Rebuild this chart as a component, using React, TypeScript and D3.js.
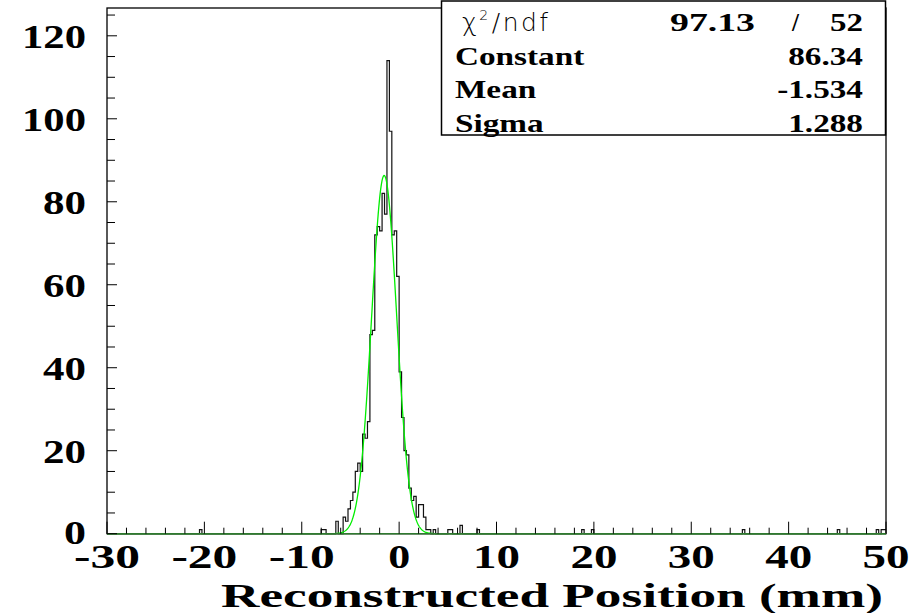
import React from 'react'
import * as d3 from 'd3'

// histogram contents, 0.25 mm bins between -30 and 50 (only filled bins listed)
const binLow = [
  -20.5, -8, -7.75, -6.5, -5.75, -5.5, -5.25, -5, -4.75, -4.5, -4.25, -4, -3.75, -3.5, -3.25,
  -3, -2.75, -2.5, -2.25, -2, -1.75, -1.5, -1.25, -1, -0.75, -0.5, -0.25, 0, 0.25, 0.5,
  0.75, 1, 1.25, 1.5, 1.75, 2, 2.25, 2.5, 2.75, 3, 3.5, 5, 5.25, 6.25, 8, 18.75, 19.75,
  35.25, 45, 49, 49.5, 49.75,
]
const binCount = [
  1, 1, 1, 3, 4, 3, 6, 8, 10, 15, 17, 15, 24, 23, 27,
  48, 49, 72, 74, 73, 82, 77, 114, 97, 72, 73, 62, 39, 28, 20,
  19, 11, 8, 9, 4, 7, 7, 4, 1, 1, 1, 1, 1, 2, 1, 1, 1,
  1, 1, 1, 1, 1,
]

const xTickLabels = [-30, -20, -10, 0, 10, 20, 30, 40, 50]
const yTickLabels = [0, 20, 40, 60, 80, 100, 120]

// fit result shown in the stats box
const fitNames = ['Constant', 'Mean', 'Sigma']
const fitValues = ['86.34', '-1.534', '1.288']
const fitParams = [86.34, -1.534, 1.288]
const chi2 = '97.13'
const ndf = '52'

const binWidth = 0.25

export default function App() {
  const x = d3.scaleLinear().domain([-30, 50]).range([107, 886])
  const y = d3.scaleLinear().domain([0, 126.7]).range([533.7, 8])

  const nBins = Math.round(80 / binWidth)
  const counts = new Array(nBins).fill(0)
  binLow.forEach((lo, i) => {
    counts[Math.round((lo + 30) / binWidth)] = binCount[i]
  })
  const steps = counts.map((c, i) => [-30 + i * binWidth, c])
  steps.push([50, counts[nBins - 1]])

  const histLine = d3.line<number[]>()
    .x(d => x(d[0]))
    .y(d => y(d[1]))
    .curve(d3.curveStepAfter)

  const [amp, mean, sigma] = fitParams
  const fitPts = d3.range(-30, 50.001, 0.05).map(v => [v, amp * Math.exp(-0.5 * ((v - mean) / sigma) ** 2)])
  const fitLine = d3.line<number[]>().x(d => x(d[0])).y(d => y(d[1]))

  const xMinor = d3.range(-30, 50.01, 2)
  const yMinor = d3.range(0, 126, 5)

  const serif = '"Liberation Serif", "Times New Roman", serif'
  const labelWidths: Record<string, number> = { '1': 22, '2': 43, '3': 64 }
  const statFont = { fontFamily: serif, fontWeight: 'bold', fontSize: 25 } as const
  const sx = 1.33

  return (
    <svg width={916} height={613} style={{ position: 'absolute', left: 0, top: 0, background: '#fff' }}>
      <path d={histLine(steps) || ''} fill="none" stroke="#111" strokeWidth={1.2} />
      <path d={fitLine(fitPts) || ''} fill="none" stroke="#00ee00" strokeWidth={1.3} />

      <rect x={107} y={8} width={779} height={525.7} fill="none" stroke="#000" strokeWidth={1.3} />
      <line x1={107} x2={886} y1={533.7} y2={533.7} stroke="#2f7a2f" strokeWidth={1.4} />

      {xMinor.map(v => {
        const major = Math.abs(v % 10) < 1e-6
        return <line key={'xt' + v} x1={x(v)} x2={x(v)} y1={533.7} y2={533.7 - (major ? 12 : 6)} stroke="#000" strokeWidth={1} />
      })}
      {yMinor.map(v => {
        const major = v % 20 === 0
        return <line key={'yt' + v} x1={107} x2={107 + (major ? 10 : 8)} y1={y(v)} y2={y(v)} stroke="#000" strokeWidth={1} />
      })}

      {xTickLabels.map(v => {
        const s = String(v)
        return (
          <text key={'xl' + v} x={x(v)} y={568} textAnchor="middle" fontFamily={serif} fontWeight="bold" fontSize={34}
            textLength={s.length === 1 ? 22 : s.length === 2 ? 47 : 66} lengthAdjust="spacingAndGlyphs">{s}</text>
        )
      })}
      {yTickLabels.map(v => {
        const s = String(v)
        const w = labelWidths[String(s.length)]
        return (
          <text key={'yl' + v} x={86 - w} y={y(v) + (v === 0 ? 10 : 12)} fontFamily={serif} fontWeight="bold" fontSize={34}
            textLength={w} lengthAdjust="spacingAndGlyphs">{s}</text>
        )
      })}

      <text x={221} y={607} fontFamily={serif} fontWeight="bold" fontSize={33} textLength={662} lengthAdjust="spacingAndGlyphs">
        Reconstructed Position (mm)
      </text>

      <rect x={441.5} y={1} width={444} height={134} fill="#fff" stroke="#000" strokeWidth={1.5} />
      <text x={462} y={31} fontFamily='"DejaVu Sans", sans-serif' fontWeight={200} fontSize={25} letterSpacing={2.5}>
        χ<tspan fontSize={14} dy={-11}>2</tspan><tspan dy={11} dx={1}>/ndf</tspan>
      </text>
      <text x={670} y={31} {...statFont} textLength={85} lengthAdjust="spacingAndGlyphs">{chi2}</text>
      <text x={792} y={31} {...statFont}>/</text>
      <text x={863} y={31} textAnchor="end" {...statFont} textLength={33} lengthAdjust="spacingAndGlyphs">{ndf}</text>
      {fitNames.map((n, i) => (
        <g key={n}>
          <text transform={`translate(455,${65 + i * 33.3}) scale(${sx},1)`} {...statFont}>{n}</text>
          <text transform={`translate(863,${65 + i * 33.3}) scale(${sx},1)`} textAnchor="end" {...statFont}>{fitValues[i]}</text>
        </g>
      ))}
    </svg>
  )
}
